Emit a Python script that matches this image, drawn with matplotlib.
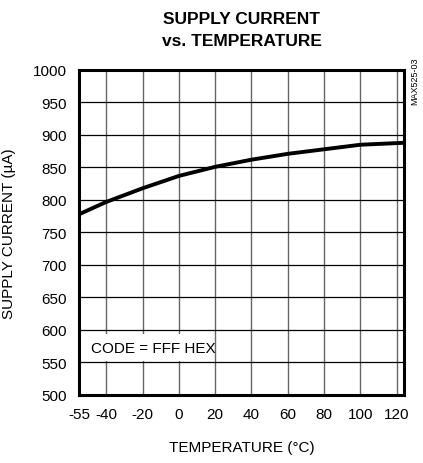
import matplotlib
matplotlib.use("Agg")
import matplotlib.pyplot as plt

# supply current vs temperature
temp = [-55, -40, -20, 0, 20, 40, 60, 80, 100, 124]
current = [778, 797, 818, 837, 851, 862, 871, 878, 885, 888]
x_ticks = [-55, -40, -20, 0, 20, 40, 60, 80, 100, 120]
y_ticks = [500, 550, 600, 650, 700, 750, 800, 850, 900, 950, 1000]

plt.rcParams["font.family"] = ["Liberation Sans", "DejaVu Sans"]
plt.rcParams["axes.unicode_minus"] = False

fig = plt.figure(figsize=(4.23, 4.64), dpi=100)
ax = fig.add_axes([0.1868, 0.1466, 0.7682, 0.7004])

ax.set_xlim(-55, 124)
ax.set_ylim(500, 1000)
ax.set_xticks(x_ticks)
ax.set_yticks(y_ticks)
ax.grid(True, axis="y", color="black", linewidth=0.9, zorder=1)
ax.grid(True, axis="x", color="0.4", linewidth=1.0, zorder=1)
ax.set_axisbelow(True)

# white label box sitting between the 550 and 600 grid lines
ax.fill_between([-55, 18.5], 553, 594, facecolor="white", edgecolor="none",
                linewidth=0, zorder=5)
ax.text(-14, 573, "CODE = FFF HEX", fontsize=11, ha="center", va="center", zorder=6)

ax.plot(temp, current, "-k", linewidth=2.8, solid_capstyle="butt", zorder=7)

ax.tick_params(length=0, labelsize=11, pad=9)
for s in ax.spines.values():
    s.set_linewidth(2.2)
    s.set_zorder(8)

ax.set_xlabel("TEMPERATURE (°C)", fontsize=11, labelpad=13)
ax.set_ylabel("SUPPLY CURRENT (µA)", fontsize=11)
ax.yaxis.set_label_coords(-0.195, 0.5)
ax.set_title("SUPPLY CURRENT\nvs. TEMPERATURE", fontsize=12.5, fontweight="bold",
             pad=18, linespacing=1.6)

fig.text(0.981, 0.825, "MAX525-03", fontsize=6.5, rotation=90, ha="center", va="center")

fig.savefig("out.png", dpi=100)
